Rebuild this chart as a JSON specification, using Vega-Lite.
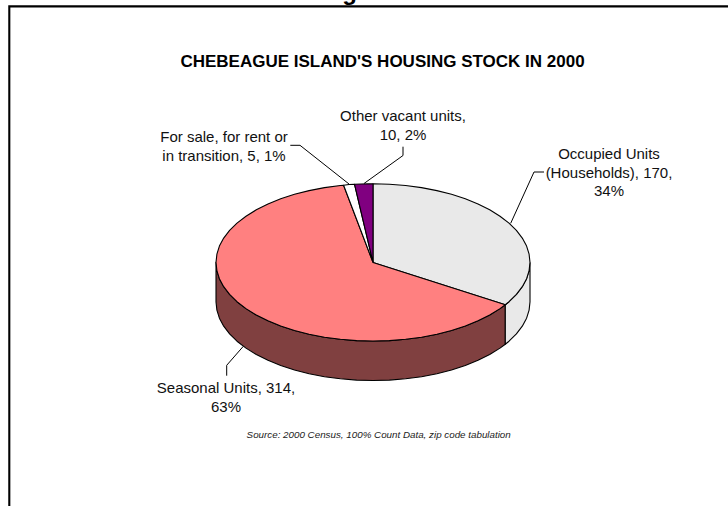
{"$schema":"https://vega.github.io/schema/vega-lite/v6.json","width":728,"height":506,"autosize":{"type":"none"},"padding":0,"background":"white","view":{"stroke":null},
"datasets":{"shapes":[
{"p":"a_wall_seasonal","i":0,"x":132.3,"y":-42.3},{"p":"a_wall_seasonal","i":1,"x":127,"y":-46.2},{"p":"a_wall_seasonal","i":2,"x":116.7,"y":-52.6},{"p":"a_wall_seasonal","i":3,"x":105,"y":-58.4},{"p":"a_wall_seasonal","i":4,"x":92.3,"y":-63.6},{"p":"a_wall_seasonal","i":5,"x":78.5,"y":-68.1},{"p":"a_wall_seasonal","i":6,"x":63.9,"y":-71.8},{"p":"a_wall_seasonal","i":7,"x":48.5,"y":-74.8},{"p":"a_wall_seasonal","i":8,"x":32.6,"y":-76.9},{"p":"a_wall_seasonal","i":9,"x":16.4,"y":-78.2},{"p":"a_wall_seasonal","i":10,"x":0,"y":-78.6},{"p":"a_wall_seasonal","i":11,"x":-16.4,"y":-78.2},{"p":"a_wall_seasonal","i":12,"x":-32.6,"y":-76.9},{"p":"a_wall_seasonal","i":13,"x":-48.5,"y":-74.8},{"p":"a_wall_seasonal","i":14,"x":-63.9,"y":-71.8},{"p":"a_wall_seasonal","i":15,"x":-78.5,"y":-68.1},{"p":"a_wall_seasonal","i":16,"x":-92.3,"y":-63.6},{"p":"a_wall_seasonal","i":17,"x":-105,"y":-58.4},{"p":"a_wall_seasonal","i":18,"x":-116.7,"y":-52.6},{"p":"a_wall_seasonal","i":19,"x":-127,"y":-46.2},{"p":"a_wall_seasonal","i":20,"x":-136,"y":-39.3},{"p":"a_wall_seasonal","i":21,"x":-143.4,"y":-32},{"p":"a_wall_seasonal","i":22,"x":-149.3,"y":-24.3},{"p":"a_wall_seasonal","i":23,"x":-153.6,"y":-16.3},{"p":"a_wall_seasonal","i":24,"x":-156.1,"y":-8.2},{"p":"a_wall_seasonal","i":25,"x":-157,"y":0},{"p":"a_wall_seasonal","i":26,"x":-157,"y":-39.5},{"p":"a_wall_seasonal","i":27,"x":-156.1,"y":-47.7},{"p":"a_wall_seasonal","i":28,"x":-153.6,"y":-55.8},{"p":"a_wall_seasonal","i":29,"x":-149.3,"y":-63.8},{"p":"a_wall_seasonal","i":30,"x":-143.4,"y":-71.5},{"p":"a_wall_seasonal","i":31,"x":-136,"y":-78.8},{"p":"a_wall_seasonal","i":32,"x":-127,"y":-85.7},{"p":"a_wall_seasonal","i":33,"x":-116.7,"y":-92.1},{"p":"a_wall_seasonal","i":34,"x":-105,"y":-97.9},{"p":"a_wall_seasonal","i":35,"x":-92.3,"y":-103.1},{"p":"a_wall_seasonal","i":36,"x":-78.5,"y":-107.6},{"p":"a_wall_seasonal","i":37,"x":-63.9,"y":-111.3},{"p":"a_wall_seasonal","i":38,"x":-48.5,"y":-114.3},{"p":"a_wall_seasonal","i":39,"x":-32.6,"y":-116.4},{"p":"a_wall_seasonal","i":40,"x":-16.4,"y":-117.7},{"p":"a_wall_seasonal","i":41,"x":0,"y":-118.1},{"p":"a_wall_seasonal","i":42,"x":16.4,"y":-117.7},{"p":"a_wall_seasonal","i":43,"x":32.6,"y":-116.4},{"p":"a_wall_seasonal","i":44,"x":48.5,"y":-114.3},{"p":"a_wall_seasonal","i":45,"x":63.9,"y":-111.3},{"p":"a_wall_seasonal","i":46,"x":78.5,"y":-107.6},{"p":"a_wall_seasonal","i":47,"x":92.3,"y":-103.1},{"p":"a_wall_seasonal","i":48,"x":105,"y":-97.9},{"p":"a_wall_seasonal","i":49,"x":116.7,"y":-92.1},{"p":"a_wall_seasonal","i":50,"x":127,"y":-85.7},{"p":"a_wall_seasonal","i":51,"x":132.3,"y":-81.8},{"p":"a_wall_seasonal","i":52,"x":132.3,"y":-42.3},
{"p":"b_wall_occupied","i":0,"x":157,"y":0},{"p":"b_wall_occupied","i":1,"x":156.1,"y":-8.2},{"p":"b_wall_occupied","i":2,"x":153.6,"y":-16.3},{"p":"b_wall_occupied","i":3,"x":149.3,"y":-24.3},{"p":"b_wall_occupied","i":4,"x":143.4,"y":-32},{"p":"b_wall_occupied","i":5,"x":136,"y":-39.3},{"p":"b_wall_occupied","i":6,"x":132.3,"y":-42.3},{"p":"b_wall_occupied","i":7,"x":132.3,"y":-81.8},{"p":"b_wall_occupied","i":8,"x":136,"y":-78.8},{"p":"b_wall_occupied","i":9,"x":143.4,"y":-71.5},{"p":"b_wall_occupied","i":10,"x":149.3,"y":-63.8},{"p":"b_wall_occupied","i":11,"x":153.6,"y":-55.8},{"p":"b_wall_occupied","i":12,"x":156.1,"y":-47.7},{"p":"b_wall_occupied","i":13,"x":157,"y":-39.5},{"p":"b_wall_occupied","i":14,"x":157,"y":0},
{"p":"c_occupied","i":0,"x":0,"y":0},{"p":"c_occupied","i":1,"x":0,"y":78.6},{"p":"c_occupied","i":2,"x":16.4,"y":78.2},{"p":"c_occupied","i":3,"x":32.6,"y":76.9},{"p":"c_occupied","i":4,"x":48.5,"y":74.8},{"p":"c_occupied","i":5,"x":63.9,"y":71.8},{"p":"c_occupied","i":6,"x":78.5,"y":68.1},{"p":"c_occupied","i":7,"x":92.3,"y":63.6},{"p":"c_occupied","i":8,"x":105,"y":58.4},{"p":"c_occupied","i":9,"x":116.7,"y":52.6},{"p":"c_occupied","i":10,"x":127,"y":46.2},{"p":"c_occupied","i":11,"x":136,"y":39.3},{"p":"c_occupied","i":12,"x":143.4,"y":32},{"p":"c_occupied","i":13,"x":149.3,"y":24.3},{"p":"c_occupied","i":14,"x":153.6,"y":16.3},{"p":"c_occupied","i":15,"x":156.1,"y":8.2},{"p":"c_occupied","i":16,"x":157,"y":0},{"p":"c_occupied","i":17,"x":156.1,"y":-8.2},{"p":"c_occupied","i":18,"x":153.6,"y":-16.3},{"p":"c_occupied","i":19,"x":149.3,"y":-24.3},{"p":"c_occupied","i":20,"x":143.4,"y":-32},{"p":"c_occupied","i":21,"x":136,"y":-39.3},{"p":"c_occupied","i":22,"x":132.3,"y":-42.3},{"p":"c_occupied","i":23,"x":0,"y":0},
{"p":"d_seasonal","i":0,"x":0,"y":0},{"p":"d_seasonal","i":1,"x":132.3,"y":-42.3},{"p":"d_seasonal","i":2,"x":127,"y":-46.2},{"p":"d_seasonal","i":3,"x":116.7,"y":-52.6},{"p":"d_seasonal","i":4,"x":105,"y":-58.4},{"p":"d_seasonal","i":5,"x":92.3,"y":-63.6},{"p":"d_seasonal","i":6,"x":78.5,"y":-68.1},{"p":"d_seasonal","i":7,"x":63.9,"y":-71.8},{"p":"d_seasonal","i":8,"x":48.5,"y":-74.8},{"p":"d_seasonal","i":9,"x":32.6,"y":-76.9},{"p":"d_seasonal","i":10,"x":16.4,"y":-78.2},{"p":"d_seasonal","i":11,"x":0,"y":-78.6},{"p":"d_seasonal","i":12,"x":-16.4,"y":-78.2},{"p":"d_seasonal","i":13,"x":-32.6,"y":-76.9},{"p":"d_seasonal","i":14,"x":-48.5,"y":-74.8},{"p":"d_seasonal","i":15,"x":-63.9,"y":-71.8},{"p":"d_seasonal","i":16,"x":-78.5,"y":-68.1},{"p":"d_seasonal","i":17,"x":-92.3,"y":-63.6},{"p":"d_seasonal","i":18,"x":-105,"y":-58.4},{"p":"d_seasonal","i":19,"x":-116.7,"y":-52.6},{"p":"d_seasonal","i":20,"x":-127,"y":-46.2},{"p":"d_seasonal","i":21,"x":-136,"y":-39.3},{"p":"d_seasonal","i":22,"x":-143.4,"y":-32},{"p":"d_seasonal","i":23,"x":-149.3,"y":-24.3},{"p":"d_seasonal","i":24,"x":-153.6,"y":-16.3},{"p":"d_seasonal","i":25,"x":-156.1,"y":-8.2},{"p":"d_seasonal","i":26,"x":-157,"y":0},{"p":"d_seasonal","i":27,"x":-156.1,"y":8.2},{"p":"d_seasonal","i":28,"x":-153.6,"y":16.3},{"p":"d_seasonal","i":29,"x":-149.3,"y":24.3},{"p":"d_seasonal","i":30,"x":-143.4,"y":32},{"p":"d_seasonal","i":31,"x":-136,"y":39.3},{"p":"d_seasonal","i":32,"x":-127,"y":46.2},{"p":"d_seasonal","i":33,"x":-116.7,"y":52.6},{"p":"d_seasonal","i":34,"x":-105,"y":58.4},{"p":"d_seasonal","i":35,"x":-92.3,"y":63.6},{"p":"d_seasonal","i":36,"x":-78.5,"y":68.1},{"p":"d_seasonal","i":37,"x":-63.9,"y":71.8},{"p":"d_seasonal","i":38,"x":-48.5,"y":74.8},{"p":"d_seasonal","i":39,"x":-32.6,"y":76.9},{"p":"d_seasonal","i":40,"x":-29.4,"y":77.2},{"p":"d_seasonal","i":41,"x":0,"y":0},
{"p":"e_forsale","i":0,"x":0,"y":0},{"p":"e_forsale","i":1,"x":-29.4,"y":77.2},{"p":"e_forsale","i":2,"x":-24,"y":77.9},{"p":"e_forsale","i":3,"x":-18.5,"y":78.2},{"p":"e_forsale","i":4,"x":0,"y":0},
{"p":"f_other","i":0,"x":0,"y":0},{"p":"f_other","i":1,"x":-18.5,"y":78.2},{"p":"f_other","i":2,"x":-12,"y":78.4},{"p":"f_other","i":3,"x":-6,"y":78.5},{"p":"f_other","i":4,"x":0,"y":78.6},{"p":"f_other","i":5,"x":0,"y":0}
],
"lines":[
{"k":"frame","w":2.1,"i":0,"x":-363.7,"y":-243.6},{"k":"frame","w":2.1,"i":1,"x":-363.7,"y":256},{"k":"frame","w":2.1,"i":2,"x":355,"y":256},
{"k":"other","w":1,"i":0,"x":30,"y":115.7},{"k":"other","w":1,"i":1,"x":30,"y":106.9},{"k":"other","w":1,"i":2,"x":-9,"y":78.9},
{"k":"forsale","w":1,"i":0,"x":-82.7,"y":117.1},{"k":"forsale","w":1,"i":1,"x":-73,"y":117.1},{"k":"forsale","w":1,"i":2,"x":-24,"y":78.4},
{"k":"occupied","w":1,"i":0,"x":171,"y":90.4},{"k":"occupied","w":1,"i":1,"x":161,"y":90.4},{"k":"occupied","w":1,"i":2,"x":137.7,"y":39.1},
{"k":"seasonal","w":1,"i":0,"x":-146.3,"y":-113.3},{"k":"seasonal","w":1,"i":1,"x":-146.3,"y":-102.9},{"k":"seasonal","w":1,"i":2,"x":-129.7,"y":-83.9}
],
"labels":[
{"category":"Occupied Units (Households)","units":170,"share":34,"label":"Occupied Units\n(Households), 170,\n34%","x":236,"y":108.4},
{"category":"Seasonal Units","units":314,"share":63,"label":"Seasonal Units, 314,\n63%","x":-147,"y":-125.6},
{"category":"For sale, for rent or in transition","units":5,"share":1,"label":"For sale, for rent or\nin transition, 5, 1%","x":-149,"y":125.4},
{"category":"Other vacant units","units":10,"share":2,"label":"Other vacant units,\n10, 2%","x":30,"y":146.4}
]},
"encoding":{"x":{"field":"x","type":"quantitative","scale":{"domain":[-373,355],"nice":false,"zero":false},"axis":null},"y":{"field":"y","type":"quantitative","scale":{"domain":[-243.6,262.4],"nice":false,"zero":false},"axis":null}},
"layer":[
{"data":{"name":"shapes"},"mark":{"type":"line","filled":true,"stroke":"black","strokeWidth":1.1,"strokeJoin":"round","clip":false},"encoding":{"order":{"field":"i","type":"quantitative"},"detail":{"field":"p"},"fill":{"field":"p","type":"nominal","legend":null,"scale":{"domain":["a_wall_seasonal","b_wall_occupied","c_occupied","d_seasonal","e_forsale","f_other"],"range":["#804040","#e9e9e9","#e9e9e9","#ff8080","#ffffff","#800080"]}}}},
{"data":{"name":"lines"},"mark":{"type":"line","stroke":"black","interpolate":"linear"},"encoding":{"order":{"field":"i","type":"quantitative"},"detail":{"field":"k"},"strokeWidth":{"field":"w","type":"quantitative","scale":null}}},
{"data":{"name":"labels"},"mark":{"type":"text","font":"Liberation Sans","fontSize":15,"lineBreak":"\n","lineHeight":18.5,"align":"center","baseline":"middle","color":"#111"},"encoding":{"text":{"field":"label"}}},
{"data":{"values":[{"t":"CHEBEAGUE ISLAND'S HOUSING STOCK IN 2000","x":9.5,"y":200.4}]},"mark":{"type":"text","font":"Liberation Sans","fontSize":17,"fontWeight":"bold","align":"center","baseline":"middle","color":"black"},"encoding":{"text":{"field":"t"}}},
{"data":{"values":[{"t":"g","x":-23.5,"y":262.4}]},"mark":{"type":"text","font":"Liberation Sans","fontSize":24,"fontWeight":"bold","align":"center","baseline":"alphabetic","color":"black"},"encoding":{"text":{"field":"t"}}},
{"data":{"values":[{"t":"Source:  2000 Census, 100% Count Data, zip code tabulation","x":5.7,"y":-172.3}]},"mark":{"type":"text","font":"Liberation Sans","fontSize":9.8,"fontStyle":"italic","align":"center","baseline":"middle","color":"#222"},"encoding":{"text":{"field":"t"}}}
]}
